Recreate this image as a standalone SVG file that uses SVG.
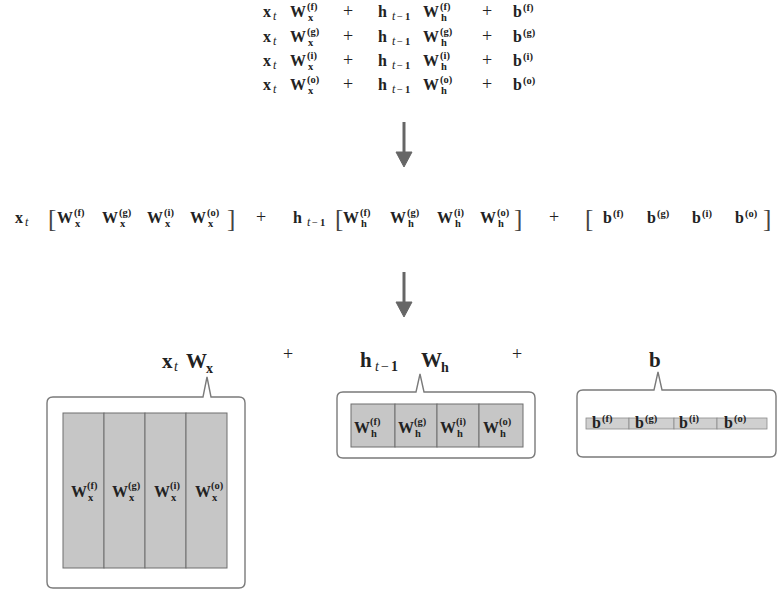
<svg xmlns="http://www.w3.org/2000/svg" width="782" height="592" viewBox="0 0 782 592">
<style>
.m{font-family:"Liberation Serif","DejaVu Serif",serif;font-weight:bold;font-size:16px;fill:#222}
.s{font-size:10.5px}
.i{font-style:italic;font-weight:normal;font-size:12px}
.n{font-weight:normal}
.op{font-weight:normal;font-size:18px}
.br{font-weight:normal;font-size:25px;fill:#444}
.L{font-size:21px}
.Li{font-style:italic;font-weight:normal;font-size:14px}
.Ls{font-size:14px}
.call{fill:#fff;stroke:#7a7a7a;stroke-width:1.4}
.cell{fill:#c6c6c6;stroke:#6e6e6e;stroke-width:1}
.bcell{fill:#d0d0d0;stroke:#8a8a8a;stroke-width:0.8}
.arr{fill:#666;stroke:#666}
</style>
<rect width="782" height="592" fill="#fff"/>

<g id="eq-separate" class="m">
  <g id="row-f">
    <text x="263" y="17">x</text><text class="i" x="273" y="20">t</text>
    <text x="290" y="17">W</text><text class="s" x="307" y="10">(f)</text><text class="s" x="308" y="21">x</text>
    <text class="op" x="343" y="17">+</text>
    <text x="378" y="17">h</text><text class="i" x="392" y="20">t</text><text class="s n" x="397" y="20">−</text><text class="s" x="405" y="20">1</text>
    <text x="423" y="17">W</text><text class="s" x="440" y="10">(f)</text><text class="s" x="441" y="21">h</text>
    <text class="op" x="482" y="17">+</text>
    <text x="513" y="17">b</text><text class="s" x="523" y="11">(f)</text>
  </g>
  <g id="row-g">
    <text x="263" y="42">x</text><text class="i" x="273" y="45">t</text>
    <text x="290" y="42">W</text><text class="s" x="307" y="35">(g)</text><text class="s" x="308" y="46">x</text>
    <text class="op" x="343" y="42">+</text>
    <text x="378" y="42">h</text><text class="i" x="392" y="45">t</text><text class="s n" x="397" y="45">−</text><text class="s" x="405" y="45">1</text>
    <text x="423" y="42">W</text><text class="s" x="440" y="35">(g)</text><text class="s" x="441" y="46">h</text>
    <text class="op" x="482" y="42">+</text>
    <text x="513" y="42">b</text><text class="s" x="523" y="36">(g)</text>
  </g>
  <g id="row-i">
    <text x="263" y="66">x</text><text class="i" x="273" y="69">t</text>
    <text x="290" y="66">W</text><text class="s" x="307" y="59">(i)</text><text class="s" x="308" y="70">x</text>
    <text class="op" x="343" y="66">+</text>
    <text x="378" y="66">h</text><text class="i" x="392" y="69">t</text><text class="s n" x="397" y="69">−</text><text class="s" x="405" y="69">1</text>
    <text x="423" y="66">W</text><text class="s" x="440" y="59">(i)</text><text class="s" x="441" y="70">h</text>
    <text class="op" x="482" y="66">+</text>
    <text x="513" y="66">b</text><text class="s" x="523" y="60">(i)</text>
  </g>
  <g id="row-o">
    <text x="263" y="90">x</text><text class="i" x="273" y="93">t</text>
    <text x="290" y="90">W</text><text class="s" x="307" y="83">(o)</text><text class="s" x="308" y="94">x</text>
    <text class="op" x="343" y="90">+</text>
    <text x="378" y="90">h</text><text class="i" x="392" y="93">t</text><text class="s n" x="397" y="93">−</text><text class="s" x="405" y="93">1</text>
    <text x="423" y="90">W</text><text class="s" x="440" y="83">(o)</text><text class="s" x="441" y="94">h</text>
    <text class="op" x="482" y="90">+</text>
    <text x="513" y="90">b</text><text class="s" x="523" y="84">(o)</text>
  </g>
</g>

<g id="eq-concat" class="m">
  <text x="15" y="223">x</text><text class="i" x="25" y="226">t</text>
  <text class="br" x="48" y="227">[</text>
  <text x="57" y="223">W</text><text class="s" x="74" y="216">(f)</text><text class="s" x="75" y="227">x</text>
  <text x="102" y="223">W</text><text class="s" x="119" y="216">(g)</text><text class="s" x="120" y="227">x</text>
  <text x="147" y="223">W</text><text class="s" x="164" y="216">(i)</text><text class="s" x="165" y="227">x</text>
  <text x="190" y="223">W</text><text class="s" x="207" y="216">(o)</text><text class="s" x="208" y="227">x</text>
  <text class="br" x="227" y="227">]</text>
  <text class="op" x="256" y="223">+</text>
  <text x="293" y="223">h</text><text class="i" x="307" y="226">t</text><text class="s n" x="312" y="226">−</text><text class="s" x="320" y="226">1</text>
  <text class="br" x="335" y="227">[</text>
  <text x="343" y="223">W</text><text class="s" x="360" y="216">(f)</text><text class="s" x="361" y="227">h</text>
  <text x="390" y="223">W</text><text class="s" x="407" y="216">(g)</text><text class="s" x="408" y="227">h</text>
  <text x="437" y="223">W</text><text class="s" x="454" y="216">(i)</text><text class="s" x="455" y="227">h</text>
  <text x="480" y="223">W</text><text class="s" x="497" y="216">(o)</text><text class="s" x="498" y="227">h</text>
  <text class="br" x="514" y="227">]</text>
  <text class="op" x="549" y="223">+</text>
  <text class="br" x="585" y="227">[</text>
  <text x="603" y="223">b</text><text class="s" x="613" y="217">(f)</text>
  <text x="647" y="223">b</text><text class="s" x="657" y="217">(g)</text>
  <text x="692" y="223">b</text><text class="s" x="702" y="217">(i)</text>
  <text x="735" y="223">b</text><text class="s" x="745" y="217">(o)</text>
  <text class="br" x="763" y="227">]</text>
</g>

<g id="connectors">
  <g id="arrow-1">
    <line x1="404" y1="122" x2="404" y2="153" class="arr" stroke-width="3"/>
    <polygon points="396,152 412,152 404,167" class="arr" stroke-width="1"/>
  </g>
  <g id="arrow-2">
    <line x1="404" y1="272" x2="404" y2="303" class="arr" stroke-width="3"/>
    <polygon points="396,302 412,302 404,317" class="arr" stroke-width="1"/>
  </g>
</g>

<g id="node-xW" class="m">
  <text class="L" x="162" y="368">x</text><text class="Li" x="174" y="371">t</text>
  <text class="L" x="186" y="368">W</text><text class="Ls" x="206" y="373">x</text>
  <path class="call" d="M53,397 H203 L207,377 L211,397 H239 Q245,397 245,403 V582 Q245,588 239,588 H53 Q47,588 47,582 V403 Q47,397 53,397 Z"/>
  <rect class="cell" x="63" y="413" width="41" height="155"/>
  <rect class="cell" x="104" y="413" width="41" height="155"/>
  <rect class="cell" x="145" y="413" width="41" height="155"/>
  <rect class="cell" x="186" y="413" width="41" height="155"/>
  <text x="71" y="497">W</text><text class="s" x="87" y="489">(f)</text><text class="s" x="88" y="501">x</text>
  <text x="112" y="497">W</text><text class="s" x="128" y="489">(g)</text><text class="s" x="129" y="501">x</text>
  <text x="154" y="497">W</text><text class="s" x="170" y="489">(i)</text><text class="s" x="171" y="501">x</text>
  <text x="195" y="497">W</text><text class="s" x="211" y="489">(o)</text><text class="s" x="212" y="501">x</text>
</g>

<text class="m op" x="283" y="360">+</text>

<g id="node-hW" class="m">
  <text class="L" x="360" y="367">h</text><text class="Li" x="375" y="371">t</text><text class="Ls n" x="381" y="371">−</text><text class="Ls" x="391" y="371">1</text>
  <text class="L" x="421" y="367">W</text><text class="Ls" x="441" y="372">h</text>
  <path class="call" d="M343,392 H416 L420,374 L424,392 H529 Q535,392 535,398 V452 Q535,458 529,458 H343 Q337,458 337,452 V398 Q337,392 343,392 Z"/>
  <rect class="cell" x="351" y="404" width="44" height="43"/>
  <rect class="cell" x="395" y="404" width="42" height="43"/>
  <rect class="cell" x="437" y="404" width="42" height="43"/>
  <rect class="cell" x="479" y="404" width="44" height="43"/>
  <text x="354" y="433">W</text><text class="s" x="370" y="425">(f)</text><text class="s" x="371" y="437">h</text>
  <text x="398" y="433">W</text><text class="s" x="414" y="425">(g)</text><text class="s" x="415" y="437">h</text>
  <text x="440" y="433">W</text><text class="s" x="456" y="425">(i)</text><text class="s" x="457" y="437">h</text>
  <text x="483" y="433">W</text><text class="s" x="499" y="425">(o)</text><text class="s" x="500" y="437">h</text>
</g>

<text class="m op" x="512" y="360">+</text>

<g id="node-b" class="m">
  <text class="L" x="649" y="367" font-size="24">b</text>
  <path class="call" d="M583,390 H654 L658,372 L662,390 H770 Q776,390 776,396 V451 Q776,457 770,457 H583 Q577,457 577,451 V396 Q577,390 583,390 Z"/>
  <rect class="bcell" x="586" y="418" width="43" height="11"/>
  <rect class="bcell" x="629" y="418" width="45" height="11"/>
  <rect class="bcell" x="674" y="418" width="43" height="11"/>
  <rect class="bcell" x="717" y="418" width="50" height="11"/>
  <text x="592" y="428">b</text><text class="s" x="602" y="422">(f)</text>
  <text x="635" y="428">b</text><text class="s" x="645" y="422">(g)</text>
  <text x="679" y="428">b</text><text class="s" x="689" y="422">(i)</text>
  <text x="724" y="428">b</text><text class="s" x="734" y="422">(o)</text>
</g>
</svg>
